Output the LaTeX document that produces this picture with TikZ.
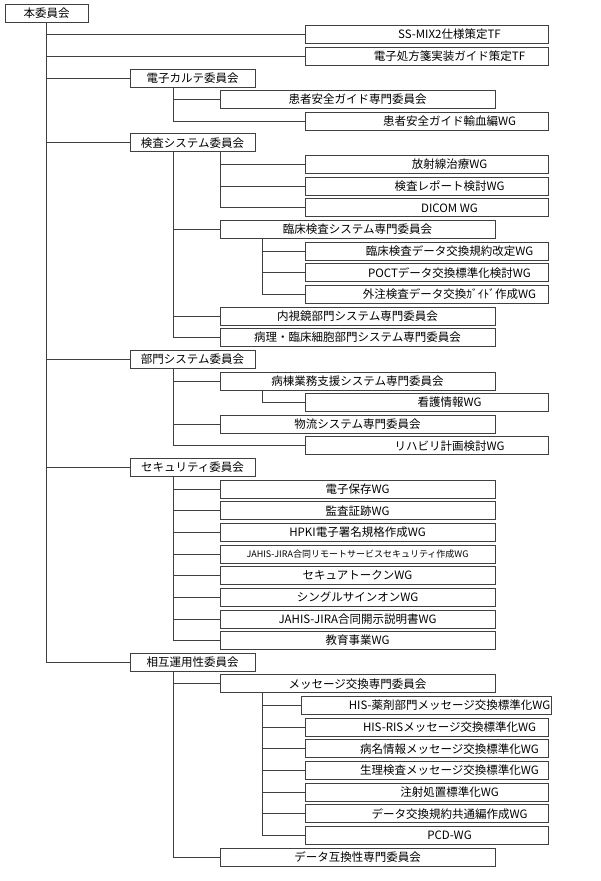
\documentclass[tikz,border=0pt]{standalone}
\usepackage{fontspec}
\setmainfont{Noto Sans CJK JP}
\tikzset{
  box/.style={draw=black!75, line width=0.8pt, minimum height=18pt, inner sep=1pt, font=\fontsize{11.5}{13}\selectfont},
  top/.style={box, minimum width=83pt},
  lone/.style={box, minimum width=125pt},
  ltwo/.style={box, minimum width=275pt},
  lthree/.style={box, minimum width=243pt, execute at begin node=\hspace*{46pt}},
  link/.style={draw=black!75, line width=0.8pt}
}
\begin{document}
\begin{tikzpicture}[x=1pt,y=-1pt]
        \useasboundingbox (0,0) rectangle (600,881);
        \node[top] (r0) at (46.5,13) {本委員会};
        \node[lthree] (r1) at (426.5,34.6) {SS-MIX2仕様策定TF};
        \node[lthree] (r2) at (426.5,56.3) {電子処方箋実装ガイド策定TF};
        \node[lone] (r3) at (192.5,77.9) {電子カルテ委員会};
        \node[ltwo] (r4) at (357.5,99.6) {患者安全ガイド専門委員会};
        \node[lthree] (r5) at (426.5,121.2) {患者安全ガイド輸血編WG};
        \node[lone] (r6) at (192.5,142.8) {検査システム委員会};
        \node[lthree] (r7) at (426.5,164.5) {放射線治療WG};
        \node[lthree] (r8) at (426.5,186.1) {検査レポート検討WG};
        \node[lthree] (r9) at (426.5,207.8) {DICOM WG};
        \node[ltwo] (r10) at (357.5,229.4) {臨床検査システム専門委員会};
        \node[lthree] (r11) at (426.5,251.0) {臨床検査データ交換規約改定WG};
        \node[lthree] (r12) at (426.5,272.7) {POCTデータ交換標準化検討WG};
        \node[lthree] (r13) at (426.5,294.3) {外注検査データ交換ｶﾞｲﾄﾞ作成WG};
        \node[ltwo] (r14) at (357.5,316.0) {内視鏡部門システム専門委員会};
        \node[ltwo] (r15) at (357.5,337.6) {病理・臨床細胞部門システム専門委員会};
        \node[lone] (r16) at (192.5,359.2) {部門システム委員会};
        \node[ltwo] (r17) at (357.5,380.9) {病棟業務支援システム専門委員会};
        \node[lthree] (r18) at (426.5,402.5) {看護情報WG};
        \node[ltwo] (r19) at (357.5,424.2) {物流システム専門委員会};
        \node[lthree] (r20) at (426.5,445.8) {リハビリ計画検討WG};
        \node[lone] (r21) at (192.5,467.4) {セキュリティ委員会};
        \node[ltwo] (r22) at (357.5,489.1) {電子保存WG};
        \node[ltwo] (r23) at (357.5,510.7) {監査証跡WG};
        \node[ltwo] (r24) at (357.5,532.4) {HPKI電子署名規格作成WG};
        \node[ltwo, font=\fontsize{9}{10}\selectfont] (r25) at (357.5,554.0) {JAHIS-JIRA合同リモートサービスセキュリティ作成WG};
        \node[ltwo] (r26) at (357.5,575.6) {セキュアトークンWG};
        \node[ltwo] (r27) at (357.5,597.3) {シングルサインオンWG};
        \node[ltwo] (r28) at (357.5,618.9) {JAHIS-JIRA合同開示説明書WG};
        \node[ltwo] (r29) at (357.5,640.6) {教育事業WG};
        \node[lone] (r30) at (192.5,662.2) {相互運用性委員会};
        \node[ltwo] (r31) at (357.5,683.8) {メッセージ交換専門委員会};
        \node[lthree] (r32) at (426.5,705.5) {HIS-薬剤部門メッセージ交換標準化WG};
        \node[lthree] (r33) at (426.5,727.1) {HIS-RISメッセージ交換標準化WG};
        \node[lthree] (r34) at (426.5,748.8) {病名情報メッセージ交換標準化WG};
        \node[lthree] (r35) at (426.5,770.4) {生理検査メッセージ交換標準化WG};
        \node[lthree] (r36) at (426.5,792.0) {注射処置標準化WG};
        \node[lthree] (r37) at (426.5,813.7) {データ交換規約共通編作成WG};
        \node[lthree] (r38) at (426.5,835.3) {PCD-WG};
        \node[ltwo] (r39) at (357.5,857.0) {データ互換性専門委員会};
        % trunks
        \coordinate (t0) at (r0.south);
        \foreach \k in {3,6,16,21,30}
          \coordinate (t\k) at ([xshift=-19.5pt]r\k.south);
        \coordinate (t6b) at ([xshift=27.5pt]r6.south);
        \foreach \k in {10,17,31}
          \coordinate (t\k) at ([xshift=-95.5pt]r\k.south);
        \foreach \a/\b in {0/1,0/2,0/3,0/6,0/16,0/21,0/30,3/4,3/5,6/10,6/14,6/15,
            6b/7,6b/8,6b/9,10/11,10/12,10/13,16/17,16/19,16/20,17/18,
            21/22,21/23,21/24,21/25,21/26,21/27,21/28,21/29,30/31,30/39,
            31/32,31/33,31/34,31/35,31/36,31/37,31/38}
          \draw[link] (t\a) |- (r\b.west);
\end{tikzpicture}
\end{document}
